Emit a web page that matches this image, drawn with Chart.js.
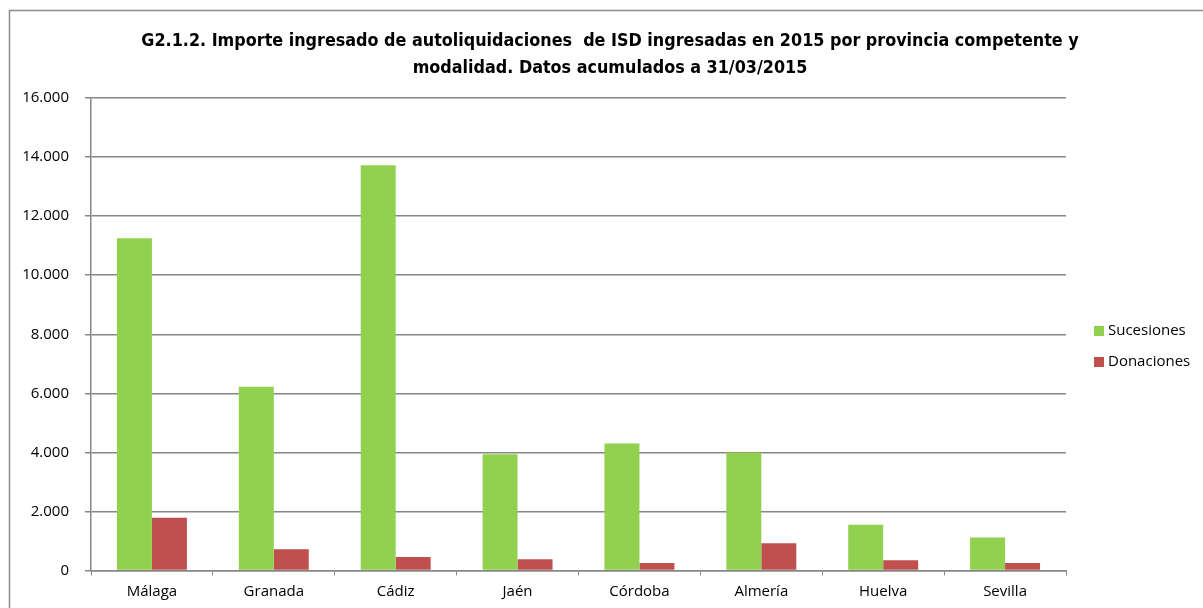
<!DOCTYPE html>
<html>
<head>
<meta charset="utf-8">
<script src="https://cdn.jsdelivr.net/npm/chart.js@4"></script>
<style>
html,body{margin:0;padding:0;background:#fff;}
#wrap{width:1203px;height:608px;position:relative;}
</style>
</head>
<body>
<div id="wrap"><canvas id="c" width="1203" height="608"></canvas></div>
<script>
const categories = ['Málaga','Granada','Cádiz','Jaén','Córdoba','Almería','Huelva','Sevilla'];
const sucesiones = [11250, 6220, 13720, 3940, 4300, 4000, 1550, 1120];
const donaciones = [1790, 720, 460, 380, 255, 920, 345, 255];
const seriesNames = ['Sucesiones', 'Donaciones'];
const seriesColors = ['#92D050', '#C0504D'];
const titleLines = ['G2.1.2. Importe ingresado de autoliquidaciones  de ISD ingresadas en 2015 por provincia competente y', 'modalidad. Datos acumulados a 31/03/2015'];
const yMax = 16000;
const yStep = 2000;

function fmt(v){
  if (v === 0) return '0';
  const s = String(Math.round(v));
  return s.replace(/\B(?=(\d{3})+(?!\d))/g, '.');
}

const axisGray = '#868686';
const textFont = "'Open Sans', 'Liberation Sans', sans-serif";

const decor = {
  id: 'decor',
  beforeDraw(chart){
    const ctx = chart.ctx;
    ctx.save();
    ctx.fillStyle = '#fff';
    ctx.fillRect(0,0,chart.width,chart.height);
    ctx.strokeStyle = '#8c8c8c';
    ctx.lineWidth = 1.5;
    ctx.beginPath();
    ctx.moveTo(9.5, chart.height);
    ctx.lineTo(9.5, 10.5);
    ctx.lineTo(chart.width, 10.5);
    ctx.stroke();
    ctx.restore();
  },
  afterDraw(chart){
    const ctx = chart.ctx;
    ctx.save();
    ctx.fillStyle = '#000';
    ctx.textAlign = 'center';
    ctx.textBaseline = 'middle';
    ctx.font = "bold 17.8px 'DejaVu Sans Condensed', 'Liberation Sans Narrow', 'Liberation Sans', sans-serif";
    ctx.fillText(titleLines[0], 610, 41);
    ctx.fillText(titleLines[1], 610, 68);
    // legend
    ctx.textAlign = 'left';
    ctx.font = "15px " + textFont;
    chart.data.datasets.forEach((ds, i) => {
      const y = 331 + i * 31;
      ctx.fillStyle = ds.backgroundColor;
      ctx.fillRect(1094, y - 5, 10, 10);
      ctx.fillStyle = '#000';
      ctx.fillText(ds.label, 1108, y);
    });
    ctx.restore();
  }
};

new Chart(document.getElementById('c'), {
  type: 'bar',
  data: {
    labels: categories,
    datasets: [
      { label: seriesNames[0], data: sucesiones, backgroundColor: seriesColors[0] },
      { label: seriesNames[1], data: donaciones, backgroundColor: seriesColors[1] }
    ]
  },
  options: {
    responsive: false,
    animation: false,
    events: [],
    layout: { padding: { left: 0, right: 137, top: 98, bottom: 0 } },
    datasets: { bar: { categoryPercentage: 0.574, barPercentage: 1.0 } },
    plugins: { legend: { display: false }, title: { display: false }, tooltip: { enabled: false } },
    scales: {
      x: {
        afterFit(scale){ scale.height = 37.5; },
        grid: { drawOnChartArea: false, drawTicks: true, tickLength: 5, color: axisGray, offset: true },
        border: { display: true, color: axisGray, width: 1.5 },
        ticks: { color: '#000', font: { family: textFont, size: 15 }, padding: 7 }
      },
      y: {
        min: 0, max: yMax,
        afterFit(scale){ scale.width = 91; },
        grid: { color: axisGray, lineWidth: 1.5, drawTicks: true, tickLength: 6 },
        border: { display: true, color: axisGray, width: 1.5 },
        ticks: { stepSize: yStep, color: '#000', font: { family: textFont, size: 15 }, padding: 16, callback: (v) => fmt(v) }
      }
    }
  },
  plugins: [decor]
});
</script>
</body>
</html>
